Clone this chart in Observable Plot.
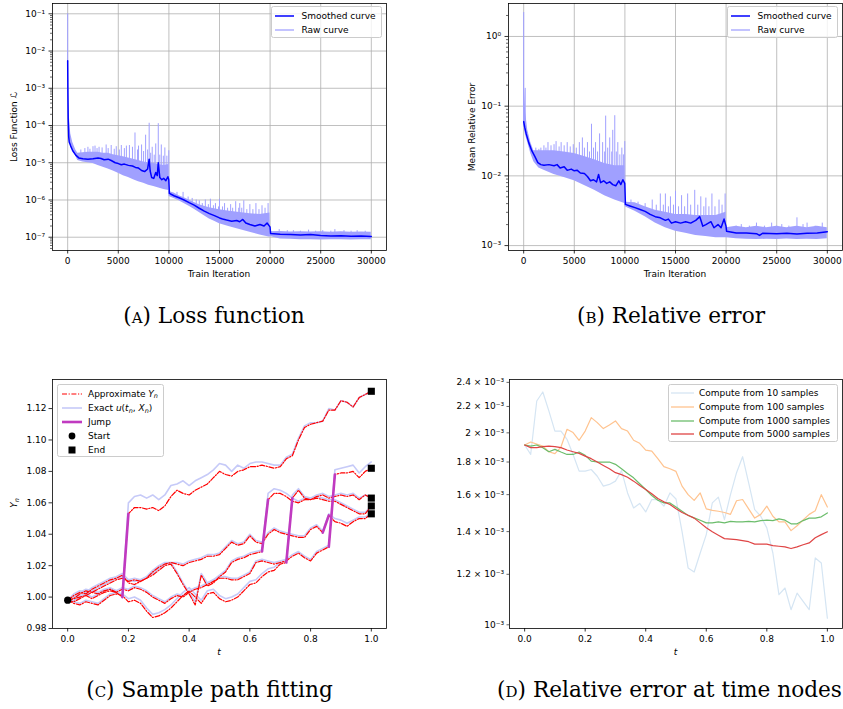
<!DOCTYPE html>
<html>
<head>
<meta charset="utf-8">
<script src="https://cdn.jsdelivr.net/npm/d3@7"></script>
<script src="https://cdn.jsdelivr.net/npm/@observablehq/plot@0.6"></script>
<style>
html,body{margin:0;padding:0;background:#fff;}
#fig{position:relative;width:843px;height:709px;overflow:hidden;font-family:"DejaVu Sans",sans-serif;color:#000;}
.panel{position:absolute;}
.panel svg{display:block;}
.albl{position:absolute;font-size:9px;white-space:nowrap;line-height:1;}
.cap{position:absolute;font-family:"DejaVu Serif",serif;white-space:nowrap;line-height:1;transform:translate(-50%,-50%);}
.sc{font-variant:small-caps;}
.leg{position:absolute;box-sizing:border-box;border:0.8px solid #cccccc;border-radius:2.5px;background:rgba(255,255,255,0.8);}
.leg .sw{position:absolute;line-height:0;}
.leg .tx{position:absolute;font-size:9px;white-space:nowrap;line-height:1;transform:translateY(-50%);}
.m{font-style:italic;}
.sub{font-style:italic;font-size:0.72em;position:relative;top:0.3em;}
</style>
</head>
<body>
<div id="fig"></div>
<script>
// ---------------- (A) Loss function ----------------
const lossSmoothIter = [0,20,50,100,150,300,500,800,1100,1500,2000,2500,3000,3300,3600,4000,4300,4700,5000,5300,5600,6000,6400,6700,7000,7300,7600,7900,8050,8150,8300,8500,8700,8850,8950,9100,9300,9500,9700,9900,9990,10050,10500,11000,11500,12000,12500,13000,13500,14000,14500,15000,15300,15700,16200,16700,17000,17300,17600,18000,18500,19000,19400,19700,19990,20050,21000,22000,23000,24000,25000,26000,27000,28000,29000,29999];
const lossSmoothVal = [5.5e-3,1e-3,1.5e-4,5e-5,3.6e-5,2.8e-5,2.1e-5,1.6e-5,1.35e-5,1.28e-5,1.25e-5,1.28e-5,1.35e-5,1.3e-5,1.2e-5,1.25e-5,1.15e-5,1.0e-5,9.5e-6,8.8e-6,9.2e-6,8.5e-6,8.2e-6,7.5e-6,7.2e-6,6.2e-6,5.8e-6,6.8e-6,1.25e-5,6e-6,4e-6,3.8e-6,5.5e-6,4.5e-6,1.0e-5,4e-6,3.5e-6,3.8e-6,3.3e-6,4.2e-6,3.5e-6,1.5e-6,1.3e-6,1.15e-6,1.0e-6,8.5e-7,7.3e-7,6e-7,5e-7,4.3e-7,3.8e-7,3.3e-7,3.1e-7,2.9e-7,2.7e-7,2.8e-7,2.6e-7,3e-7,2.4e-7,2.2e-7,2.0e-7,2.2e-7,2.0e-7,2.4e-7,1.9e-7,1.25e-7,1.2e-7,1.18e-7,1.15e-7,1.18e-7,1.12e-7,1.08e-7,1.1e-7,1.07e-7,1.08e-7,1.05e-7];
const lossRawIter = [0,30,80,150,300,500,800,1000,1500,2000,2500,3000,3500,4000,4500,5000,5500,6000,6500,7000,7500,8000,8500,9000,9500,9990,10020,10500,11000,11500,12000,12500,13000,13500,14000,14500,15000,16000,17000,18000,19000,19990,20020,21000,22000,23000,24000,25000,26000,27000,28000,29000,29999];
const lossRawLow = [4e-3,5e-4,8e-5,4e-5,3e-5,2.2e-5,1.5e-5,1.15e-5,1.05e-5,1.0e-5,9.5e-6,8.5e-6,7.6e-6,6.8e-6,6e-6,5.2e-6,4.5e-6,4e-6,3.5e-6,3.1e-6,2.8e-6,2.5e-6,2.3e-6,2.1e-6,1.9e-6,1.8e-6,1.25e-6,1.1e-6,9.5e-7,8e-7,6.8e-7,5.6e-7,4.6e-7,3.8e-7,3.1e-7,2.7e-7,2.3e-7,1.9e-7,1.6e-7,1.35e-7,1.15e-7,1.0e-7,1.05e-7,9e-8,8.8e-8,8.6e-8,8.5e-8,8.4e-8,8.6e-8,8.5e-8,8.4e-8,8.5e-8,8.6e-8];
const lossRawHigh = [0.1,8e-3,5e-4,2e-4,6e-5,3.5e-5,2.2e-5,1.8e-5,1.85e-5,1.9e-5,1.9e-5,1.9e-5,1.8e-5,1.8e-5,1.65e-5,1.55e-5,1.45e-5,1.35e-5,1.25e-5,1.15e-5,1.05e-5,1.0e-5,9.5e-6,9e-6,8.5e-6,9e-6,1.7e-6,1.55e-6,1.3e-6,1.15e-6,1.0e-6,8.5e-7,7.5e-7,6.8e-7,6.2e-7,5.8e-7,5.5e-7,5e-7,4.6e-7,4.3e-7,4.1e-7,4.5e-7,1.4e-7,1.42e-7,1.38e-7,1.4e-7,1.38e-7,1.4e-7,1.37e-7,1.4e-7,1.36e-7,1.38e-7,1.36e-7];
// raw-curve spikes: [iteration, foot, peak]
const lossSpikes = [
  [0,5e-3,0.1],[1300,1.3e-5,2.2e-5],[1700,1.25e-5,2.4e-5],[2000,1.25e-5,2.6e-5],[2200,1.2e-5,2.3e-5],[2500,1.25e-5,2.7e-5],
  [2700,1.3e-5,2.8e-5],[2900,1.3e-5,2.4e-5],[3100,1.3e-5,2.6e-5],[3400,1.25e-5,2.5e-5],[3800,1.2e-5,3e-5],[4000,1.2e-5,2.4e-5],
  [4300,1.1e-5,2.9e-5],[4600,1e-5,2.3e-5],[4800,9.5e-6,2.7e-5],[5100,9e-6,2.2e-5],[5300,9e-6,2.9e-5],[5600,9e-6,2.4e-5],
  [5800,8.5e-6,2.8e-5],[6100,8.5e-6,2.9e-5],[6400,8e-6,2.6e-5],[6650,7.5e-6,6.3e-5],[6900,7e-6,2.2e-5],[7000,7e-6,2.8e-5],
  [7300,6.5e-6,3e-5],[7500,6e-6,2e-5],[7700,6e-6,5.5e-5],[7900,6e-6,2.2e-5],[8050,6e-6,1.15e-4],[8200,5e-6,1.8e-5],
  [8350,4.5e-6,2.6e-5],[8550,4e-6,1.6e-5],[8700,4.5e-6,3.2e-5],[8950,4e-6,1.12e-4],[9100,4e-6,1.6e-5],[9250,3.8e-6,3e-5],
  [9450,3.6e-6,1.5e-5],[9600,3.6e-6,2.5e-5],[9800,3.5e-6,1.5e-5],[9990,3.5e-6,2.1e-5],
  [10800,1.3e-6,1.6e-6],[11400,1.05e-6,1.6e-6],[11900,9e-7,1.2e-6],[12300,8e-7,1.1e-6],[12700,7e-7,1.0e-6],[13000,6e-7,9.5e-7],
  [13300,5.5e-7,8e-7],[13600,5e-7,1.0e-6],[13900,4.5e-7,7.5e-7],[14100,4.3e-7,1.05e-6],[14400,4e-7,7e-7],[14600,3.8e-7,8e-7],
  [14900,3.4e-7,6.5e-7],[15000,3.3e-7,1.05e-6],[15300,3.1e-7,6.5e-7],[15500,3e-7,8e-7],[15800,2.9e-7,6e-7],[16100,2.8e-7,7.5e-7],
  [16300,2.7e-7,6e-7],[16600,2.8e-7,9e-7],[16900,2.7e-7,6e-7],[17000,2.6e-7,8e-7],[17200,2.6e-7,6e-7],[17400,2.8e-7,9.5e-7],
  [17700,2.4e-7,5.5e-7],[18000,2.2e-7,7.5e-7],[18300,2.1e-7,5.5e-7],[18600,2e-7,8e-7],[18900,2.1e-7,5.5e-7],[19200,2.1e-7,7e-7],
  [19500,2e-7,6e-7],[19800,2.2e-7,8e-7],
  [20900,1.2e-7,1.6e-7],[21700,1.2e-7,1.5e-7],[22300,1.15e-7,1.5e-7],[23000,1.15e-7,1.45e-7],[23800,1.15e-7,1.55e-7],
  [24500,1.15e-7,1.45e-7],[25200,1.1e-7,1.5e-7],[26000,1.1e-7,1.45e-7],[26400,1.1e-7,1.6e-7],[27300,1.1e-7,1.5e-7],
  [28000,1.05e-7,1.45e-7],[28600,1.05e-7,1.5e-7],[29400,1.05e-7,1.45e-7]
];

// ---------------- (B) Relative error ----------------
const errSmoothIter = [0,100,250,500,800,1100,1400,1700,2000,2500,3000,3300,3600,4000,4300,4700,5000,5300,5600,6000,6300,6600,6900,7200,7400,7600,7900,8200,8500,8800,9100,9400,9600,9800,9990,10050,10500,11000,11500,12000,12500,13000,13500,14000,14300,14600,15000,15500,16000,16500,17000,17400,17700,18000,18500,18800,19200,19500,19800,19990,20050,21000,22000,23000,23300,23600,25000,26000,27000,28000,29000,29999];
const errSmoothVal = [0.06,0.05,0.04,0.03,0.023,0.019,0.0155,0.0145,0.0142,0.0145,0.014,0.0145,0.013,0.0135,0.012,0.0125,0.0118,0.012,0.011,0.0108,0.0098,0.0085,0.0088,0.0082,0.0105,0.008,0.0085,0.0078,0.0082,0.0075,0.0072,0.0085,0.0075,0.0088,0.0078,0.0039,0.0037,0.0035,0.0033,0.0031,0.0028,0.0026,0.0025,0.0023,0.0024,0.0021,0.0022,0.0021,0.0022,0.0021,0.0023,0.0026,0.0019,0.0020,0.0022,0.0018,0.0020,0.0018,0.0024,0.0019,0.0016,0.00152,0.00152,0.00148,0.0014,0.0015,0.00148,0.0015,0.00147,0.0015,0.00152,0.00158];
const errRawIter = [0,30,80,200,400,700,1000,1500,2000,3000,4000,5000,6000,7000,8000,9000,9990,10020,11000,12000,13000,14000,15000,16000,17000,18000,19000,19990,20020,21000,22000,23000,24000,25000,26000,27000,28000,29000,29999];
const errRawLow = [0.06,0.05,0.045,0.038,0.03,0.021,0.016,0.013,0.012,0.0105,0.0095,0.0085,0.0073,0.0062,0.0052,0.0045,0.004,0.0036,0.0031,0.0026,0.0021,0.0018,0.0016,0.0015,0.0014,0.00135,0.0013,0.0013,0.0013,0.00125,0.00123,0.00122,0.00123,0.00122,0.00124,0.00122,0.00123,0.00122,0.00125];
const errRawHigh = [2.2,0.5,0.18,0.08,0.045,0.03,0.023,0.023,0.023,0.023,0.022,0.021,0.019,0.017,0.015,0.014,0.014,0.0042,0.0041,0.0036,0.0032,0.003,0.0028,0.0028,0.0027,0.0027,0.0027,0.003,0.0018,0.0019,0.0018,0.0019,0.0018,0.0019,0.0018,0.0019,0.0018,0.0019,0.0018];
const errSpikes = [
  [0,0.06,2.2],[150,0.045,0.18],
  [1200,0.018,0.025],[1500,0.016,0.024],[1700,0.015,0.025],[2000,0.0145,0.027],[2200,0.014,0.025],[2400,0.014,0.03],
  [2700,0.014,0.027],[3000,0.014,0.028],[3200,0.014,0.031],[3500,0.013,0.026],[3700,0.013,0.03],[4000,0.0135,0.027],
  [4300,0.012,0.03],[4600,0.012,0.026],[4900,0.012,0.028],[5200,0.012,0.025],[5500,0.011,0.03],[5800,0.011,0.035],
  [6000,0.0108,0.025],[6300,0.0095,0.03],[6500,0.009,0.022],[6700,0.009,0.055],[6900,0.0088,0.025],[7100,0.009,0.03],
  [7300,0.0085,0.022],[7500,0.009,0.04],[7800,0.008,0.03],[8000,0.008,0.022],[8100,0.008,0.072],[8300,0.0078,0.025],
  [8500,0.008,0.035],[8700,0.0075,0.022],[8800,0.0075,0.045],[9000,0.0075,0.073],[9150,0.0072,0.022],[9300,0.0075,0.03],
  [9500,0.008,0.02],[9700,0.0075,0.025],[9850,0.0085,0.02],[9990,0.0078,0.031],
  [10600,0.0037,0.0045],[11300,0.0034,0.0042],[12000,0.0031,0.004],[12700,0.0028,0.0045],[13100,0.0026,0.0038],
  [13500,0.0025,0.0055],[13800,0.0024,0.0038],[14000,0.0023,0.0055],[14300,0.0024,0.0036],[14500,0.0022,0.005],
  [14800,0.0022,0.0038],[15000,0.0022,0.006],[15300,0.0021,0.0036],[15600,0.0021,0.0052],[15900,0.0022,0.0036],
  [16200,0.0022,0.0055],[16500,0.0021,0.0038],[16900,0.0023,0.0062],[17200,0.0023,0.0038],[17500,0.002,0.005],
  [17800,0.0019,0.0036],[18000,0.002,0.0048],[18300,0.0021,0.0036],[18600,0.002,0.0055],[18900,0.0019,0.0036],
  [19300,0.002,0.0045],[19600,0.0019,0.0038],[19900,0.002,0.0055],
  [21000,0.0015,0.0019],[21500,0.0015,0.002],[22300,0.0015,0.0019],[23000,0.0015,0.0021],[23800,0.0015,0.0019],
  [24500,0.0015,0.0021],[25000,0.0015,0.0019],[25500,0.0015,0.002],[26200,0.0015,0.0019],[27000,0.0015,0.0025],
  [27600,0.0015,0.002],[28000,0.0015,0.0021],[28800,0.0015,0.0019],[29500,0.0015,0.0021]
];

const iterTicks = [0,5000,10000,15000,20000,25000,30000];
const lossMajorTicks = [1e-7,1e-6,1e-5,1e-4,1e-3,1e-2,1e-1];
const lossMinorTicks = [5e-8,6e-8,7e-8,8e-8,9e-8,2e-7,3e-7,4e-7,5e-7,6e-7,7e-7,8e-7,9e-7,2e-6,3e-6,4e-6,5e-6,6e-6,7e-6,8e-6,9e-6,2e-5,3e-5,4e-5,5e-5,6e-5,7e-5,8e-5,9e-5,2e-4,3e-4,4e-4,5e-4,6e-4,7e-4,8e-4,9e-4,2e-3,3e-3,4e-3,5e-3,6e-3,7e-3,8e-3,9e-3,2e-2,3e-2,4e-2,5e-2,6e-2,7e-2,8e-2,9e-2];
const errMajorTicks = [1e-3,1e-2,1e-1,1];
const errMinorTicks = [2e-3,3e-3,4e-3,5e-3,6e-3,7e-3,8e-3,9e-3,2e-2,3e-2,4e-2,5e-2,6e-2,7e-2,8e-2,9e-2,0.2,0.3,0.4,0.5,0.6,0.7,0.8,0.9,2];

// ---------------- (C) Sample path fitting ----------------
const tNodes = [0,0.02,0.04,0.06,0.08,0.1,0.12,0.14,0.16,0.18,0.2,0.22,0.24,0.26,0.28,0.3,0.32,0.34,0.36,0.38,0.4,0.42,0.44,0.46,0.48,0.5,0.52,0.54,0.56,0.58,0.6,0.62,0.64,0.66,0.68,0.7,0.72,0.74,0.76,0.78,0.8,0.82,0.84,0.86,0.88,0.9,0.92,0.94,0.96,0.98,1];
const approxA = [0.998,0.999,1.000,1.001,1.003,1.002,1.004,1.005,1.003,1.000,1.053,1.057,1.057,1.056,1.057,1.055,1.058,1.064,1.068,1.066,1.065,1.068,1.070,1.072,1.076,1.080,1.078,1.077,1.080,1.081,1.083,1.083,1.084,1.083,1.082,1.083,1.088,1.090,1.100,1.108,1.110,1.111,1.112,1.119,1.119,1.125,1.124,1.121,1.127,1.129,1.131];
const exactA = [0.998,1.000,1.001,1.002,1.004,1.003,1.005,1.006,1.004,1.001,1.060,1.064,1.065,1.063,1.065,1.062,1.065,1.071,1.072,1.074,1.071,1.074,1.076,1.078,1.081,1.085,1.084,1.080,1.084,1.082,1.085,1.086,1.086,1.085,1.084,1.084,1.089,1.091,1.101,1.109,1.111,1.111,1.112,1.120,1.119,1.125,1.124,1.121,1.127,1.129,1.131];
const approxB = [0.998,0.997,0.999,1.001,0.999,1.001,1.003,1.004,1.003,1.005,1.004,1.006,1.005,1.003,1.000,0.998,0.996,0.999,1.001,1.000,1.003,1.005,1.006,1.008,1.010,1.012,1.012,1.011,1.011,1.013,1.015,1.022,1.023,1.022,1.021,1.022,1.023,1.026,1.028,1.025,1.023,1.028,1.030,1.032,1.078,1.079,1.079,1.080,1.076,1.080,1.082];
const exactB = [0.998,0.998,1.000,1.002,1.000,1.002,1.004,1.005,1.004,1.006,1.005,1.007,1.006,1.004,1.001,0.999,0.997,1.000,1.002,1.001,1.004,1.006,1.007,1.009,1.011,1.013,1.013,1.012,1.012,1.014,1.016,1.023,1.024,1.023,1.022,1.023,1.024,1.027,1.029,1.026,1.024,1.029,1.031,1.033,1.081,1.082,1.083,1.084,1.079,1.083,1.086];
const approxC = [0.998,0.999,1.002,1.004,1.003,1.005,1.007,1.009,1.011,1.012,1.010,1.011,1.010,1.012,1.014,1.017,1.020,1.021,1.015,1.008,1.002,0.995,1.014,1.007,1.009,1.013,1.016,1.022,1.024,1.025,1.027,1.028,1.029,1.062,1.066,1.066,1.064,1.061,1.060,1.062,1.062,1.063,1.062,1.061,1.061,1.059,1.057,1.055,1.053,1.053,1.058];
const exactC = [0.998,1.000,1.003,1.005,1.004,1.006,1.008,1.010,1.012,1.013,1.011,1.012,1.011,1.013,1.015,1.018,1.021,1.022,1.016,1.009,1.003,0.997,1.015,1.009,1.011,1.014,1.017,1.023,1.025,1.026,1.028,1.029,1.030,1.066,1.069,1.068,1.066,1.063,1.061,1.063,1.063,1.064,1.063,1.062,1.062,1.060,1.058,1.056,1.054,1.054,1.058];
const approxD = [0.998,0.996,0.995,0.997,0.996,0.995,0.998,1.001,1.002,1.001,0.997,0.998,0.996,0.991,0.987,0.988,0.990,0.993,0.997,1.001,1.004,1.000,0.996,1.002,1.003,0.999,0.997,0.998,1.000,1.004,1.008,1.009,1.013,1.016,1.017,1.021,1.022,1.063,1.068,1.063,1.062,1.064,1.065,1.063,1.064,1.065,1.064,1.065,1.062,1.065,1.063];
const exactD = [0.998,0.997,0.996,0.998,0.997,0.996,0.999,1.002,1.003,1.002,0.999,1.000,0.998,0.993,0.989,0.990,0.992,0.995,0.999,1.003,1.006,1.002,0.998,1.004,1.005,1.001,0.999,1.000,1.002,1.006,1.010,1.011,1.015,1.018,1.019,1.022,1.023,1.065,1.069,1.064,1.063,1.065,1.066,1.064,1.065,1.066,1.065,1.066,1.063,1.065,1.063];
const approxE = [0.998,1.001,1.003,1.002,1.005,1.007,1.009,1.011,1.012,1.014,1.009,1.008,1.010,1.012,1.016,1.019,1.021,1.022,1.021,1.020,1.022,1.023,1.024,1.026,1.026,1.027,1.031,1.035,1.033,1.034,1.039,1.035,1.034,1.040,1.043,1.041,1.040,1.039,1.038,1.038,1.043,1.045,1.041,1.052,1.048,1.047,1.045,1.048,1.050,1.050,1.053];
const exactE = [0.998,1.002,1.004,1.003,1.006,1.008,1.010,1.012,1.013,1.015,1.011,1.010,1.011,1.013,1.017,1.020,1.022,1.022,1.022,1.021,1.023,1.024,1.025,1.027,1.027,1.028,1.032,1.036,1.034,1.035,1.040,1.036,1.035,1.041,1.044,1.042,1.041,1.040,1.039,1.039,1.044,1.046,1.042,1.053,1.050,1.049,1.047,1.049,1.051,1.051,1.053];
const pathNames = ["A","B","C","D","E"];
const jumpPath = ["A","C","D","E","B"];
const jumpFrom = [0.18,0.64,0.72,0.84,0.86];
const jumpTo = [0.2,0.66,0.74,0.86,0.88];
const pathYTicks = [0.98,1.00,1.02,1.04,1.06,1.08,1.10,1.12];
const tTicks = [0,0.2,0.4,0.6,0.8,1.0];

// ---------------- (D) Relative error at time nodes ----------------
const err10 = [1.914e-3,1.85e-3,2.244e-3,2.318e-3,2.165e-3,2.013e-3,2.013e-3,1.954e-3,1.85e-3,1.742e-3,1.742e-3,1.752e-3,1.71e-3,1.65e-3,1.66e-3,1.68e-3,1.745e-3,1.61e-3,1.525e-3,1.55e-3,1.503e-3,1.572e-3,1.572e-3,1.535e-3,1.61e-3,1.575e-3,1.40e-3,1.228e-3,1.21e-3,1.296e-3,1.385e-3,1.553e-3,1.586e-3,1.462e-3,1.60e-3,1.732e-3,1.835e-3,1.67e-3,1.516e-3,1.48e-3,1.419e-3,1.296e-3,1.115e-3,1.142e-3,1.056e-3,1.121e-3,1.088e-3,1.056e-3,1.273e-3,1.25e-3,1.024e-3];
const err100 = [1.914e-3,1.935e-3,1.92e-3,1.907e-3,1.868e-3,1.855e-3,1.90e-3,2.026e-3,2.002e-3,1.947e-3,2.013e-3,2.113e-3,2.075e-3,2.031e-3,2.058e-3,2.088e-3,2.031e-3,2.013e-3,1.947e-3,1.926e-3,1.879e-3,1.872e-3,1.822e-3,1.77e-3,1.757e-3,1.74e-3,1.65e-3,1.60e-3,1.567e-3,1.61e-3,1.52e-3,1.512e-3,1.507e-3,1.50e-3,1.49e-3,1.565e-3,1.572e-3,1.52e-3,1.47e-3,1.49e-3,1.535e-3,1.48e-3,1.45e-3,1.45e-3,1.405e-3,1.43e-3,1.46e-3,1.49e-3,1.51e-3,1.60e-3,1.53e-3];
const err1000 = [1.914e-3,1.907e-3,1.914e-3,1.896e-3,1.868e-3,1.884e-3,1.866e-3,1.85e-3,1.85e-3,1.866e-3,1.844e-3,1.806e-3,1.80e-3,1.80e-3,1.80e-3,1.785e-3,1.757e-3,1.727e-3,1.70e-3,1.664e-3,1.63e-3,1.595e-3,1.568e-3,1.553e-3,1.553e-3,1.53e-3,1.507e-3,1.484e-3,1.471e-3,1.459e-3,1.445e-3,1.445e-3,1.45e-3,1.445e-3,1.453e-3,1.45e-3,1.45e-3,1.453e-3,1.45e-3,1.457e-3,1.459e-3,1.457e-3,1.466e-3,1.459e-3,1.44e-3,1.44e-3,1.457e-3,1.47e-3,1.47e-3,1.477e-3,1.498e-3];
const err5000 = [1.914e-3,1.896e-3,1.896e-3,1.903e-3,1.907e-3,1.903e-3,1.896e-3,1.88e-3,1.868e-3,1.857e-3,1.839e-3,1.822e-3,1.80e-3,1.778e-3,1.757e-3,1.732e-3,1.72e-3,1.704e-3,1.68e-3,1.654e-3,1.63e-3,1.605e-3,1.578e-3,1.559e-3,1.544e-3,1.52e-3,1.50e-3,1.485e-3,1.47e-3,1.445e-3,1.42e-3,1.399e-3,1.382e-3,1.365e-3,1.363e-3,1.36e-3,1.355e-3,1.35e-3,1.338e-3,1.338e-3,1.338e-3,1.331e-3,1.328e-3,1.325e-3,1.317e-3,1.325e-3,1.335e-3,1.344e-3,1.369e-3,1.385e-3,1.399e-3];
const nodeErrTicks = [1.0e-3,1.2e-3,1.4e-3,1.6e-3,1.8e-3,2.0e-3,2.2e-3,2.4e-3];
const sampleLabels = ["Compute from 10 samples","Compute from 100 samples","Compute from 1000 samples","Compute from 5000 samples"];
const sampleColors = ["#d5e5f3","#ffc38f","#6cbd6c","#df4545"];

// ---------------- helpers ----------------
const fig = document.getElementById("fig");
const SUP = {"-":"⁻","0":"⁰","1":"¹","2":"²","3":"³","4":"⁴","5":"⁵","6":"⁶","7":"⁷","8":"⁸","9":"⁹"};
const sup = s => String(s).split("").map(c => SUP[c] || c).join("");
const powFmt = d => "10" + sup(Math.round(Math.log10(d)));
const nodeFmt = d => Math.abs(d - 1e-3) < 1e-9 ? "10⁻³" : `${+(d * 1000).toFixed(1)} × 10⁻³`;
const baseStyle = {background: "transparent", fontFamily: "DejaVu Sans, sans-serif", fontSize: "9px", color: "#000", overflow: "visible"};
const rowsOf = (xs, ys) => xs.map((x, i) => ({x, y: ys[i]}));

function place(node, left, top) {
  const d = document.createElement("div");
  d.className = "panel";
  d.style.left = left + "px"; d.style.top = top + "px";
  d.appendChild(node);
  fig.appendChild(d);
}
function label(html, x, y, rotate) {
  const d = document.createElement("div");
  d.className = "albl";
  d.innerHTML = html;
  d.style.left = x + "px"; d.style.top = y + "px";
  d.style.transform = "translate(-50%,-50%)" + (rotate ? " rotate(-90deg)" : "");
  fig.appendChild(d);
}
function lineSwatch(w, color, sw, dash) {
  return `<svg width="${w}" height="12"><line x1="0" x2="${w}" y1="6" y2="6" stroke="${color}" stroke-width="${sw}" ${dash ? `stroke-dasharray="${dash}"` : ""}/></svg>`;
}
function legend(box, rows) {
  const d = document.createElement("div");
  d.className = "leg";
  Object.assign(d.style, {left: box.l + "px", top: box.t + "px", width: box.w + "px", height: box.h + "px"});
  rows.forEach(r => {
    const s = document.createElement("div");
    s.className = "sw"; s.style.left = r.sx + "px"; s.style.top = (r.y - 6) + "px";
    s.innerHTML = r.svg; d.appendChild(s);
    const t = document.createElement("div");
    t.className = "tx"; t.style.left = r.tx + "px"; t.style.top = r.y + "px";
    t.innerHTML = r.html; d.appendChild(t);
  });
  fig.appendChild(d);
}

function trainPanel(cfg) {
  return Plot.plot({
    width: cfg.width, height: 290,
    marginTop: 3, marginRight: cfg.mr, marginBottom: 40, marginLeft: cfg.ml,
    style: baseStyle,
    x: {domain: [-1500, 31500]},
    y: {type: "log", domain: cfg.ydomain},
    marks: [
      Plot.gridX(iterTicks, {stroke: "#b0b0b0", strokeOpacity: 1, strokeWidth: 0.8}),
      Plot.gridY(cfg.major, {stroke: "#b0b0b0", strokeOpacity: 1, strokeWidth: 0.8}),
      Plot.areaY(cfg.raw, {x: "x", y1: "lo", y2: "hi", fill: "#a0a0ff", fillOpacity: 1, clip: true}),
      Plot.ruleX(cfg.spikes, {x: "0", y1: "1", y2: "2", stroke: "#a0a0ff", strokeWidth: 1, clip: true}),
      Plot.line(cfg.smooth, {x: "x", y: "y", stroke: "#0000ff", strokeWidth: 1.5, clip: true}),
      Plot.axisX({ticks: iterTicks, tickSize: 3.5, tickPadding: 4, tickFormat: d => String(d), strokeWidth: 0.8, label: null}),
      Plot.axisY({ticks: cfg.major, tickSize: 3.5, tickPadding: 4, tickFormat: powFmt, strokeWidth: 0.8, label: null}),
      Plot.axisY({ticks: cfg.minor, tickSize: 2, tickPadding: 0, tickFormat: () => "", strokeWidth: 0.6, label: null}),
      Plot.frame({stroke: "#000", strokeWidth: 0.8})
    ]
  });
}

// ---------- Panel A ----------
const lossRaw = lossRawIter.map((x, i) => ({x, lo: lossRawLow[i], hi: lossRawHigh[i]}));
place(trainPanel({width: 420, ml: 52, mr: 34, ydomain: [4.4e-8, 0.189], major: lossMajorTicks, minor: lossMinorTicks,
  raw: lossRaw, spikes: lossSpikes, smooth: rowsOf(lossSmoothIter, lossSmoothVal)}), 0, 0);

// ---------- Panel B ----------
const errRaw = errRawIter.map((x, i) => ({x, lo: errRawLow[i], hi: errRawHigh[i]}));
place(trainPanel({width: 423, ml: 88, mr: 1, ydomain: [8.5e-4, 2.97], major: errMajorTicks, minor: errMinorTicks,
  raw: errRaw, spikes: errSpikes, smooth: rowsOf(errSmoothIter, errSmoothVal)}), 420, 0);

// ---------- Panel C ----------
const approxPaths = [approxA, approxB, approxC, approxD, approxE];
const exactPaths = [exactA, exactB, exactC, exactD, exactE];
const approxRows = pathNames.flatMap((p, k) => tNodes.map((t, i) => ({p, t, v: approxPaths[k][i]})));
const exactRows = pathNames.flatMap((p, k) => tNodes.map((t, i) => ({p, t, v: exactPaths[k][i]})));
const jumpRows = jumpPath.flatMap((p, j) => {
  const arr = approxPaths[pathNames.indexOf(p)];
  return [{j, t: jumpFrom[j], v: arr[tNodes.indexOf(jumpFrom[j])]}, {j, t: jumpTo[j], v: arr[tNodes.indexOf(jumpTo[j])]}];
});
const startRows = [{t: tNodes[0], v: approxA[0]}];
const endRows = approxPaths.map(a => ({t: tNodes[tNodes.length - 1], v: a[a.length - 1]}));
place(Plot.plot({
  width: 420, height: 310, marginTop: 29, marginRight: 34, marginBottom: 32, marginLeft: 52,
  style: baseStyle,
  x: {domain: [-0.05, 1.05]},
  y: {domain: [0.98, 1.1385]},
  marks: [
    Plot.line(exactRows, {x: "t", y: "v", z: "p", stroke: "#c6caf8", strokeWidth: 1.6}),
    Plot.line(approxRows, {x: "t", y: "v", z: "p", stroke: "#ff0000", strokeWidth: 1.2, strokeDasharray: "5,1.6,1.2,1.6"}),
    Plot.line(jumpRows, {x: "t", y: "v", z: "j", stroke: "#c03ac0", strokeWidth: 2.6}),
    Plot.dot(startRows, {x: "t", y: "v", r: 3.6, fill: "#000"}),
    Plot.dot(endRows, {x: "t", y: "v", symbol: "square", r: 4, fill: "#000"}),
    Plot.axisX({ticks: tTicks, tickSize: 3.5, tickPadding: 4, tickFormat: d3.format(".1f"), strokeWidth: 0.8, label: null}),
    Plot.axisY({ticks: pathYTicks, tickSize: 3.5, tickPadding: 2.5, tickFormat: d3.format(".2f"), strokeWidth: 0.8, label: null}),
    Plot.frame({stroke: "#000", strokeWidth: 0.8})
  ]
}), 0, 350);

// ---------- Panel D ----------
const sampleSeries = [err10, err100, err1000, err5000];
place(Plot.plot({
  width: 423, height: 310, marginTop: 29, marginRight: 1, marginBottom: 32, marginLeft: 89,
  style: baseStyle,
  x: {domain: [-0.05, 1.05]},
  y: {type: "log", domain: [0.9867e-3, 2.425e-3]},
  marks: [
    ...sampleSeries.map((s, k) => Plot.line(tNodes.map((t, i) => ({t, v: s[i]})), {x: "t", y: "v", stroke: sampleColors[k], strokeWidth: 1.2})),
    Plot.axisX({ticks: tTicks, tickSize: 3.5, tickPadding: 4, tickFormat: d3.format(".1f"), strokeWidth: 0.8, label: null}),
    Plot.axisY({ticks: nodeErrTicks, tickSize: 2.5, tickPadding: 3, tickFormat: nodeFmt, strokeWidth: 0.6, label: null}),
    Plot.frame({stroke: "#000", strokeWidth: 0.8})
  ]
}), 420, 350);

// ---------- axis labels ----------
label("Loss Function ℒ", 14, 127, true);
label("Train Iteration", 219, 274);
label("Mean Relative Error", 472, 127, true);
label("Train Iteration", 675, 274);
label('<span class="m">Y</span><span class="sub">n</span>', 14, 503, true);
label('<span class="m">t</span>', 219, 652);
label('<span class="m">t</span>', 675.5, 652);

// ---------- legends ----------
legend({l: 271, t: 6, w: 111, h: 32}, [
  {y: 9, sx: 3, tx: 29.5, svg: lineSwatch(19, "#0000ff", 1.5), html: "Smoothed curve"},
  {y: 22.5, sx: 3, tx: 29.5, svg: lineSwatch(19, "#9c9cff", 1.2), html: "Raw curve"}
]);
legend({l: 727, t: 6, w: 111, h: 32}, [
  {y: 9, sx: 3, tx: 29.5, svg: lineSwatch(19, "#0000ff", 1.5), html: "Smoothed curve"},
  {y: 22.5, sx: 3, tx: 29.5, svg: lineSwatch(19, "#9c9cff", 1.2), html: "Raw curve"}
]);
legend({l: 57, t: 384, w: 107, h: 73}, [
  {y: 8.5, sx: 4, tx: 30, svg: lineSwatch(20, "#ff0000", 1.2, "5,1.6,1.2,1.6"), html: 'Approximate <span class="m">Y</span><span class="sub">n</span>'},
  {y: 23, sx: 4, tx: 30, svg: lineSwatch(20, "#c6caf8", 1.6), html: 'Exact <span class="m">u</span>(<span class="m">t</span><span class="sub">n</span>, <span class="m">X</span><span class="sub">n</span>)'},
  {y: 37, sx: 4, tx: 30, svg: lineSwatch(20, "#c03ac0", 2.6), html: "Jump"},
  {y: 50.7, sx: 4, tx: 30, svg: '<svg width="20" height="12"><circle cx="10" cy="6" r="3.4" fill="#000"/></svg>', html: "Start"},
  {y: 64.5, sx: 4, tx: 30, svg: '<svg width="20" height="12"><rect x="6.5" y="2.5" width="7" height="7" fill="#000"/></svg>', html: "End"}
]);
legend({l: 668, t: 384, w: 170, h: 58}, sampleLabels.map((s, k) => ({
  y: [8, 22, 35.5, 49][k], sx: 2, tx: 30, svg: lineSwatch(23, sampleColors[k], 1.3), html: s
})));

// ---------- captions ----------
const caps = [
  ['<span class="sc">(a)</span> Loss function', 214, 316],
  ['<span class="sc">(b)</span> Relative error', 671, 316],
  ['<span class="sc">(c)</span> Sample path fitting', 209.5, 690],
  ['<span class="sc">(d)</span> Relative error at time nodes', 669.5, 690]
];
const capEls = caps.map(([h, x, y]) => {
  const d = document.createElement("div");
  d.className = "cap"; d.innerHTML = h;
  d.style.left = x + "px"; d.style.top = y + "px"; d.style.fontSize = "20px";
  fig.appendChild(d);
  return d;
});
const wD = capEls[3].getBoundingClientRect().width;
const fs = 20 * 345 / wD;
capEls.forEach(d => d.style.fontSize = fs.toFixed(2) + "px");
</script>
</body>
</html>
